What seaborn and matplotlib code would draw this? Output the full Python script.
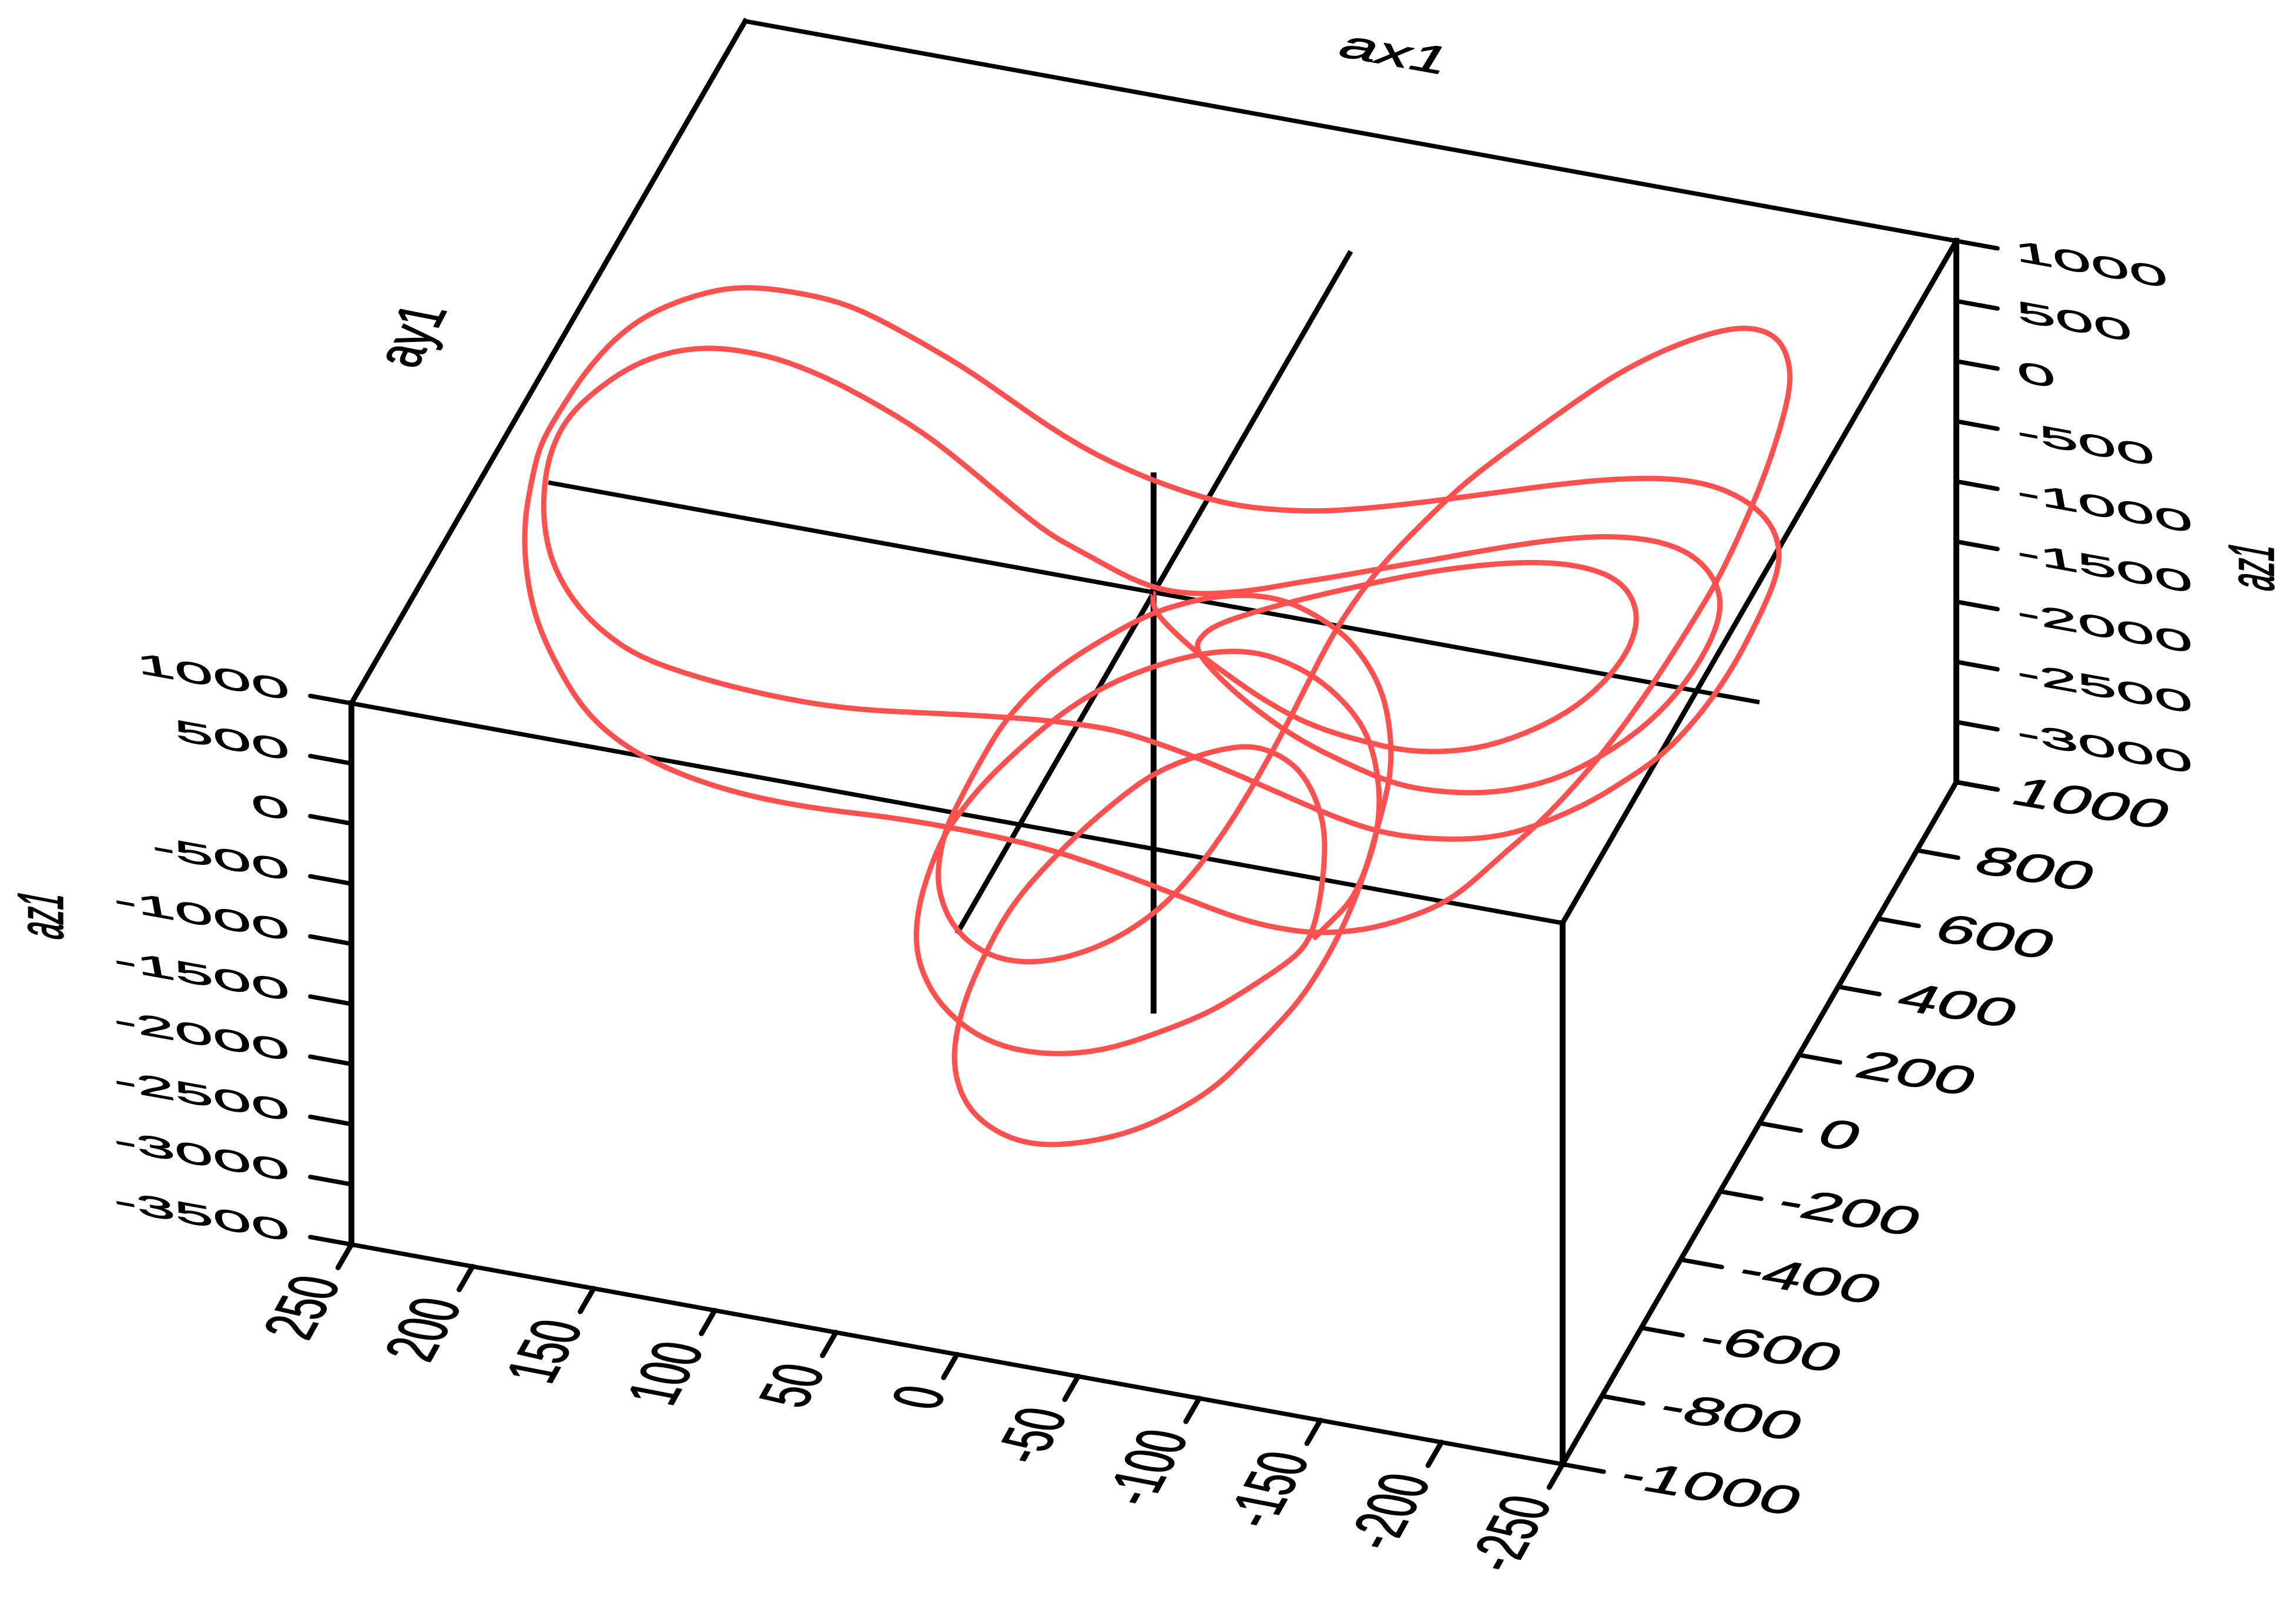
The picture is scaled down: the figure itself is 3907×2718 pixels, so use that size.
import numpy as np
import pandas as pd
import matplotlib
matplotlib.use('Agg')
import matplotlib.pyplot as plt
import seaborn as sns
from matplotlib.font_manager import FontProperties
from matplotlib.patches import PathPatch
from matplotlib.path import Path
from matplotlib.text import Text
from matplotlib.textpath import TextPath
from matplotlib.transforms import Affine2D

W, H, DPI = 3907, 2718, 100

# trajectory values
ax1 = [0,-2,-4,-11,-23,-37,-50,-64,-75,-90,-96,-108,-121,-141,-155,-169,
       -178,-185,-184,-177,-168,-153,-139,-124,-106,-89,-70,-54,-35,-26,-22,-22,
       -24,-34,-45,-62,-79,-93,-103,-118,-140,-156,-170,-183,-197,-208,-214,-213,
       -208,-197,-181,-162,-144,-123,-100,-81,-64,-53,-38,-22,-10,2,
       14,28,38,48,76,102,124,144,164,180,193,206,219,226,235,239,
       242,240,236,231,220,208,194,180,147,113,89,60,24,1,-17,-32,
       -59,-86,-107,-126,-145,-157,-167,-185,-197,-207,-218,-225,-229,-230,-231,-225,
       -216,-201,-190,-175,-154,-128,-99,-73,-55,-42,-20,12,40,70,94,120,
       142,161,180,196,209,222,231,237,243,246,244,244,239,234,225,216,
       198,172,135,101,77,53,25,8,-13,-33,-51,-70,-89,-101,-117,-133,
       -142,-150,-162,-168,-184,-196,-205,-211,-213,-217,-217,-215,-210,-204,-192,-180,
       -164,-148,-132,-118,-102,-89,-81,-73,-69,-65,-63,-58,-55,-48,-42,-35,
       -24,-8,6,20,32,42,49,51,53,51,49,44,41,30,17,3,
       -4,-13,-22,-36,-53,-71,-79,-90,-99,-104,-108,-109,-111,-107,-102,-98,
       -90,-80,-72,-57,-43,-21,-7,10,17,24,27,25,24,20,8,-3,
       -11,-20,-32,-50,-62,-73,-82,-88,-92,-96,-98,-91,-81,-68,-51,-33,
       -15,5,21,37,45,51,53,52,49,44,38,24,10,-7,-25,-38,
       -49,-71,-86,-98,-108,-110,-110,-107,-104,-98]
ay1 = [-3,-31,-28,-32,-73,-86,-96,-100,-89,-101,-102,-109,-68,-64,1,49,
       113,145,202,236,237,244,233,209,169,120,98,44,12,-34,-36,-57,
       -55,-95,-111,-110,-146,-141,-128,-142,-129,-98,-47,-10,66,131,199,273,
       284,301,318,305,271,217,189,137,88,100,55,23,11,12,
       2,31,23,18,82,116,112,124,121,124,118,90,74,14,-38,-81,
       -99,-146,-198,-228,-279,-312,-332,-334,-329,-302,-287,-258,-229,-190,-206,-192,
       -201,-214,-209,-207,-186,-158,-119,-63,-6,31,101,183,250,326,344,378,
       392,422,396,386,352,330,258,237,203,187,137,164,150,199,215,243,
       232,242,206,216,165,134,85,12,-25,-93,-156,-192,-258,-296,-357,-381,
       -446,-470,-482,-450,-437,-402,-406,-384,-404,-397,-391,-383,-385,-376,-345,-320,
       -269,-241,-190,-111,-15,105,207,277,417,471,544,594,628,635,641,604,
       570,508,458,366,306,216,137,27,-40,-95,-169,-207,-289,-341,-407,-446,
       -496,-533,-567,-569,-568,-541,-497,-466,-408,-362,-324,-300,-243,-177,-108,-50,
       -11,-17,15,42,44,31,29,-2,-44,-75,-121,-215,-292,-358,-426,-492,
       -572,-612,-648,-712,-773,-788,-820,-780,-781,-728,-662,-634,-571,-477,-384,-348,
       -306,-260,-192,-169,-170,-169,-197,-216,-263,-328,-404,-440,-479,-544,-587,-628,
       -669,-677,-681,-648,-633,-588,-538,-451,-412,-353,-310,-231,-151,-103,-76,-50,
       -13,-47,-54,-98,-173,-223,-267,-305,-362,-396]
az1 = [0,0,-100,-200,-200,-300,-400,-500,-600,-600,-600,-600,-700,-600,-600,-500,
       -400,-200,-100,0,100,100,100,100,100,100,0,0,-100,-100,-200,-200,
       -300,-300,-400,-600,-600,-700,-800,-800,-800,-800,-800,-700,-600,-400,-200,-100,
       100,200,200,200,200,200,100,100,100,0,0,0,0,0,
       100,100,200,300,400,600,800,900,1000,1000,1000,1000,900,900,800,700,
       500,400,300,100,0,-100,-200,-300,-400,-500,-500,-500,-500,-600,-600,-700,
       -800,-900,-1000,-1000,-1000,-1000,-1000,-900,-800,-700,-500,-300,-100,0,200,300,
       400,400,500,500,500,400,400,300,300,300,400,400,600,700,900,1000,
       1200,1200,1300,1200,1200,1100,1000,900,700,600,500,300,200,0,-100,-300,
       -500,-700,-800,-900,-900,-1000,-1000,-1100,-1100,-1200,-1300,-1400,-1400,-1400,-1400,-1300,
       -1300,-1200,-1000,-1000,-700,-400,-100,100,300,600,800,900,1000,1100,1100,1100,
       1000,900,700,600,400,200,100,-100,-300,-500,-600,-800,-900,-1100,-1200,-1300,
       -1400,-1500,-1500,-1500,-1400,-1300,-1200,-1100,-1000,-900,-800,-600,-500,-300,-200,-100,
       -100,0,0,0,0,-100,-200,-300,-400,-600,-800,-1000,-1100,-1400,-1600,-1700,
       -1800,-2000,-2100,-2200,-2200,-2300,-2200,-2200,-2000,-1900,-1800,-1600,-1500,-1300,-1100,-900,
       -800,-700,-700,-600,-600,-700,-800,-1000,-1100,-1200,-1400,-1500,-1600,-1700,-1800,-1900,
       -1900,-1900,-1800,-1700,-1500,-1400,-1200,-1000,-900,-800,-700,-500,-400,-300,-200,-200,
       -300,-300,-500,-600,-800,-1000,-1100,-1300,-1300,-1400]

x_ticks = [250, 200, 150, 100, 50, 0, -50, -100, -150, -200, -250]
y_ticks = [-1000, -800, -600, -400, -200, 0, 200, 400, 600, 800, 1000]
z_ticks = [1000, 500, 0, -500, -1000, -1500, -2000, -2500, -3000, -3500]
x_min, x_max = -250, 250
y_min, y_max = -1000, 1000
z_min, z_max = -3500, 1000

RED = '#ff5050'
LW_X, LW_Y, LW_Z, LW_CURVE = 5.4, 6.3, 7.2, 6.5


def project(x, y, z):
    # fixed oblique view of the data box, in figure pixels
    x, y, z = np.asarray(x, float), np.asarray(y, float), np.asarray(z, float)
    return (1963.5 - 4.122 * x + 0.335 * y,
            1008.2 - 0.748 * x - 0.5805 * y - 0.20467 * z)


def smooth_path(pts):
    # b-spline segments that use the given points as control points, no points added
    p = np.vstack([pts[0], pts[0], pts, pts[-1], pts[-1]])
    verts = [(p[0] + 4 * p[1] + p[2]) / 6]
    codes = [Path.MOVETO]
    for i in range(1, len(p) - 2):
        verts += [(2 * p[i] + p[i + 1]) / 3, (p[i] + 2 * p[i + 1]) / 3, (p[i] + 4 * p[i + 1] + p[i + 2]) / 6]
        codes += [Path.CURVE4] * 3
    return Path(np.array(verts), codes)


class SkewText(Text):
    # real text object, its glyphs laid out along two box directions
    def __init__(self, px, py, s, base, up, ha):
        angle = np.degrees(np.arctan2(-base[1], base[0]))
        size = np.hypot(*base) * 72 / DPI
        super().__init__(px, py, s, fontsize=size, rotation=angle, rotation_mode='anchor',
                         family='Liberation Sans', ha=ha, va='baseline', color='black')
        self.base, self.up, self.anchor_side = base, up, ha

    def draw(self, renderer):
        tp = TextPath((0, 0), self.get_text(), size=1, prop=FontProperties(family='Liberation Sans'))
        box = tp.get_extents()
        shift = -box.x1 if self.anchor_side == 'right' else -box.x0
        px, py = self.get_transform().transform(self.get_position())
        m = Affine2D.from_values(self.base[0], -self.base[1], self.up[0], -self.up[1], px, py)
        gc = renderer.new_gc()
        gc.set_foreground('black')
        gc.set_linewidth(1.0)
        renderer.draw_path(gc, Path(tp.vertices, tp.codes), Affine2D().translate(shift, 0) + m, (0, 0, 0, 1))
        gc.restore()


def label(ax, px, py, s, base, up, ha):
    t = SkewText(px, py, s, base, up, ha)
    ax.add_artist(t)


def segment(ax, p, q, lw, cap='projecting'):
    sx, sy = project(*zip(p, q))
    ax.plot(sx, sy, color='black', lw=lw, solid_capstyle=cap, zorder=2)


sns.set_theme(style='white')
fig = plt.figure(figsize=(W / DPI, H / DPI), dpi=DPI)
ax = fig.add_axes([0, 0, 1, 1])
ax.set_xlim(0, W)
ax.set_ylim(H, 0)
ax.set_axis_off()

# box edges
for y_end, z_end in [(y_min, z_max), (y_max, z_max), (y_min, z_min)]:
    segment(ax, (x_min, y_end, z_end), (x_max, y_end, z_end), LW_X)
for x_end, z_end in [(x_min, z_max), (x_max, z_max), (x_min, z_min)]:
    segment(ax, (x_end, y_min, z_end), (x_end, y_max, z_end), LW_Y)
for x_end, y_end in [(x_max, y_min), (x_min, y_min), (x_min, y_max)]:
    segment(ax, (x_end, y_end, z_min), (x_end, y_end, z_max), LW_Z)

# axes through the origin
lines = [([x_min, x_max], [0, 0], [0, 0], LW_X),
         ([0, 0], [y_min, y_max], [0, 0], LW_Y),
         ([0, 0], [0, 0], [z_min, z_max], LW_Z)]
for lx, ly, lz, lw in lines:
    sx, sy = project(lx, ly, lz)
    sns.lineplot(x=sx, y=sy, ax=ax, color='black', lw=lw, sort=False, estimator=None, zorder=3,
                 solid_capstyle='butt', legend=False)

# trajectory
sx, sy = project(ax1, ay1, az1)
df = pd.DataFrame({'sx': sx, 'sy': sy})
sns.lineplot(data=df, x='sx', y='sy', ax=ax, color=RED, lw=LW_CURVE, sort=False, estimator=None, zorder=4,
             legend=False)
curve = ax.lines[-1]
ax.add_patch(PathPatch(smooth_path(curve.get_xydata()), fill=False, edgecolor=RED, lw=LW_CURVE,
                       joinstyle='round', capstyle='butt', zorder=4))
curve.remove()
ax.set_xlim(0, W)
ax.set_ylim(H, 0)
ax.set_xlabel('')
ax.set_ylabel('')

# ticks and labels
TICK_X, TICK_Y = 17, 68
BASE_Z, UP_Z = (117, 21), (-9, -50)
BASE_Y, UP_Y = (117, 20), (35, -64)
BASE_X, UP_X = (34, -61), (-114, -22)

for t in x_ticks:
    segment(ax, (t, y_min, z_min), (t, y_min - TICK_Y, z_min), LW_Y, 'round')
    px, py = project(t, y_min, z_min)
    label(ax, px - 18, py + 66, str(t), BASE_X, UP_X, 'right')
for t in y_ticks:
    segment(ax, (x_min, t, z_min), (x_min - TICK_X, t, z_min), LW_X, 'round')
    px, py = project(x_min, t, z_min)
    label(ax, px + 97, py + 37, str(t), BASE_Y, UP_Y, 'left')
for t in z_ticks:
    segment(ax, (x_max, y_min, t), (x_max + TICK_X, y_min, t), LW_X, 'round')
    px, py = project(x_max, y_min, t)
    label(ax, px - 107, py - 6, str(t), BASE_Z, UP_Z, 'right')
    segment(ax, (x_min, y_max, t), (x_min - TICK_X, y_max, t), LW_X, 'round')
    if t != z_min:
        px, py = project(x_min, y_max, t)
        label(ax, px + 111, py + 35, str(t), BASE_Z, UP_Z, 'left')

label(ax, 2276, 95, 'ax1', (112, 20), (37, -61), 'left')
label(ax, 710, 626, 'ay1', (33, -63), (-107, -21), 'left')
label(ax, 107, 1600, 'az1', (0, -48), (-111, -21), 'left')
label(ax, 3869, 1007, 'az1', (0, -48), (-111, -21), 'left')

fig.savefig('out.png', dpi=DPI, facecolor='white')
